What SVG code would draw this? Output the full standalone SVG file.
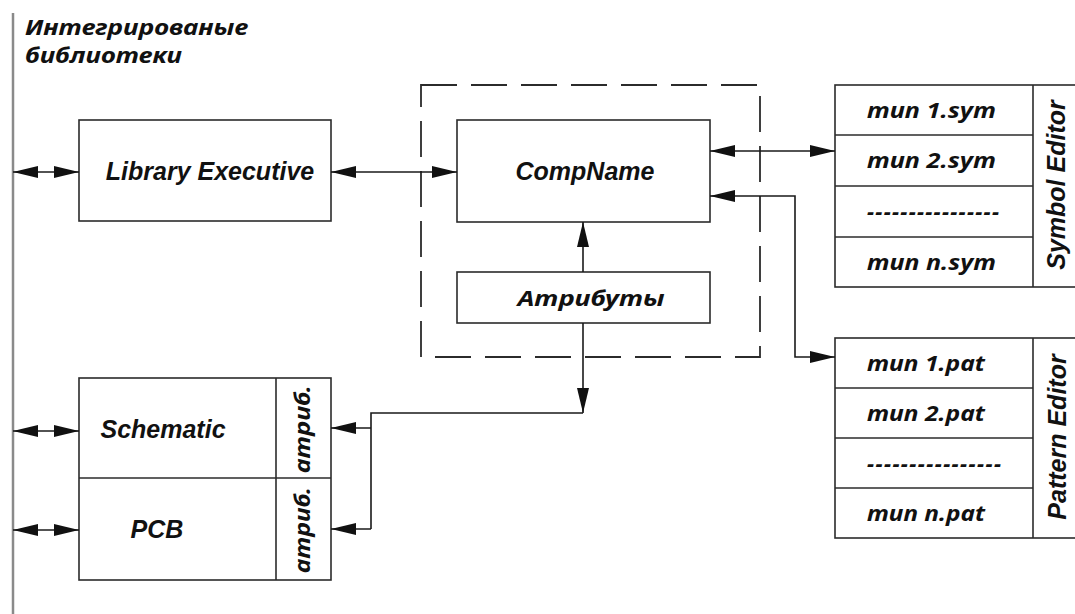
<svg xmlns="http://www.w3.org/2000/svg" width="1075" height="614" viewBox="0 0 1075 614">
<defs>
<marker id="ah" viewBox="0 0 25 12" refX="25" refY="6" markerWidth="25" markerHeight="12" markerUnits="userSpaceOnUse" orient="auto-start-reverse"><path d="M0,0 L25,6 L0,12 Z" fill="#111"/></marker>
</defs>
<style>
.box{fill:#fff;stroke:#2b2b2b;stroke-width:1.6}
.ln{fill:none;stroke:#2b2b2b;stroke-width:1.6}
.con{fill:none;stroke:#1a1a1a;stroke-width:1.6}
.dash{fill:none;stroke:#2b2b2b;stroke-width:1.8;stroke-dasharray:36 14}
.lat{font-family:"Liberation Sans",Arial,sans-serif;font-weight:bold;font-style:italic;font-size:25px;fill:#111}
.cyr{font-family:"Noto Sans","DejaVu Sans",sans-serif;font-weight:bold;font-style:italic;font-size:22px;fill:#111}
.mid{text-anchor:middle}
</style>
<rect width="1075" height="614" fill="#fff"/>

<g id="bus">
<line x1="13" y1="13" x2="13" y2="614" stroke="#8a8a8a" stroke-width="2.5"/>
<text class="cyr" x="25" y="35" font-size="19.5" textLength="223" lengthAdjust="spacingAndGlyphs">Интегрированые</text>
<text class="cyr" x="25" y="63" font-size="19.5" textLength="157" lengthAdjust="spacingAndGlyphs">библиотеки</text>
</g>

<g id="group-comp">
<rect class="dash" x="421" y="85" width="339" height="272"/>
</g>

<g id="library-executive">
<rect class="box" x="79" y="120" width="252" height="101"/>
<text class="lat mid" x="210" y="180">Library Executive</text>
</g>

<g id="compname">
<rect class="box" x="457" y="120" width="253" height="102"/>
<text class="lat mid" x="585" y="180">CompName</text>
</g>

<g id="attributes">
<rect class="box" x="457" y="272" width="253" height="51"/>
<text class="cyr mid" x="591" y="306" font-size="24" textLength="147" lengthAdjust="spacingAndGlyphs">Атрибуты</text>
</g>

<g id="schematic-pcb">
<rect class="box" x="79" y="378" width="252" height="202"/>
<line class="ln" x1="79" y1="478" x2="331" y2="478"/>
<line class="ln" x1="276" y1="378" x2="276" y2="580"/>
<text class="lat mid" x="163" y="438">Schematic</text>
<text class="lat mid" x="157" y="538">PCB</text>
<text class="cyr mid" transform="translate(310,429) rotate(-90)" font-size="22" textLength="88" lengthAdjust="spacingAndGlyphs">атриб.</text>
<text class="cyr mid" transform="translate(310,530) rotate(-90)" font-size="22" textLength="86" lengthAdjust="spacingAndGlyphs">атриб.</text>
</g>

<g id="symbol-editor">
<rect class="box" x="835" y="85" width="245" height="202"/>
<line class="ln" x1="835" y1="135" x2="1033" y2="135"/>
<line class="ln" x1="835" y1="186" x2="1033" y2="186"/>
<line class="ln" x1="835" y1="237" x2="1033" y2="237"/>
<line class="ln" x1="1033" y1="85" x2="1033" y2="287"/>
<text class="cyr" x="867" y="118" textLength="129" lengthAdjust="spacingAndGlyphs">тип 1.sym</text>
<text class="cyr" x="867" y="168" textLength="129" lengthAdjust="spacingAndGlyphs">тип 2.sym</text>
<text class="cyr" x="867" y="219" textLength="132">----------------</text>
<text class="cyr" x="867" y="270" textLength="129" lengthAdjust="spacingAndGlyphs">тип n.sym</text>
<text class="lat mid" transform="translate(1065,185) rotate(-90)" font-size="24">Symbol Editor</text>
</g>

<g id="pattern-editor">
<rect class="box" x="835" y="338" width="245" height="200"/>
<line class="ln" x1="835" y1="388" x2="1033" y2="388"/>
<line class="ln" x1="835" y1="438" x2="1033" y2="438"/>
<line class="ln" x1="835" y1="488" x2="1033" y2="488"/>
<line class="ln" x1="1033" y1="338" x2="1033" y2="538"/>
<text class="cyr" x="867" y="371" textLength="118" lengthAdjust="spacingAndGlyphs">тип 1.pat</text>
<text class="cyr" x="867" y="421" textLength="118" lengthAdjust="spacingAndGlyphs">тип 2.pat</text>
<text class="cyr" x="867" y="471" textLength="134">----------------</text>
<text class="cyr" x="867" y="521" textLength="118" lengthAdjust="spacingAndGlyphs">тип n.pat</text>
<text class="lat mid" transform="translate(1066,437) rotate(-90)" font-size="24">Pattern Editor</text>
</g>

<g id="connectors">
<line class="con" x1="13" y1="172" x2="79" y2="172" marker-start="url(#ah)" marker-end="url(#ah)"/>
<line class="con" x1="13" y1="431" x2="79" y2="431" marker-start="url(#ah)" marker-end="url(#ah)"/>
<line class="con" x1="13" y1="530" x2="79" y2="530" marker-start="url(#ah)" marker-end="url(#ah)"/>
<line class="con" x1="331" y1="172" x2="457" y2="172" marker-start="url(#ah)" marker-end="url(#ah)"/>
<line class="con" x1="710" y1="151" x2="835" y2="151" marker-start="url(#ah)" marker-end="url(#ah)"/>
<polyline class="con" points="835,357 795,357 795,196 710,196" marker-start="url(#ah)" marker-end="url(#ah)"/>
<line class="con" x1="583" y1="272" x2="583" y2="222" marker-end="url(#ah)"/>
<line class="con" x1="583" y1="323" x2="583" y2="413" marker-end="url(#ah)"/>
<polyline class="con" points="583,413 371,413 371,529"/>
<line class="con" x1="371" y1="428" x2="331" y2="428" marker-end="url(#ah)"/>
<line class="con" x1="371" y1="529" x2="331" y2="529" marker-end="url(#ah)"/>
</g>
</svg>
